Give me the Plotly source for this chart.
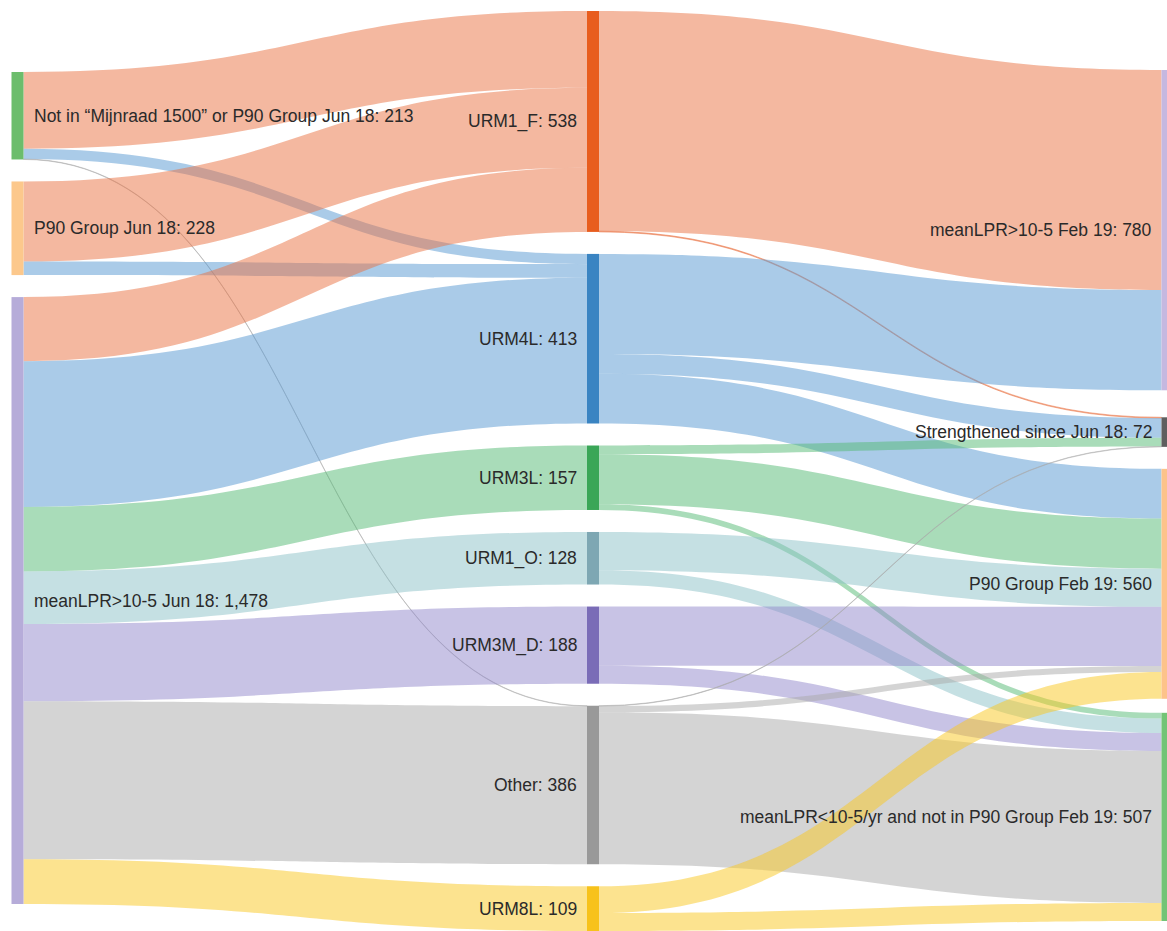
import plotly.graph_objects as go

# ---------------- data ----------------
node_names = [
    "Not in \u201cMijnraad 1500\u201d or P90 Group Jun 18",
    "P90 Group Jun 18",
    "meanLPR>10-5 Jun 18",
    "URM1_F", "URM4L", "URM3L", "URM1_O", "URM3M_D", "Other", "URM8L",
    "meanLPR>10-5 Feb 19",
    "Strengthened since Jun 18",
    "P90 Group Feb 19",
    "meanLPR<10-5/yr and not in P90 Group Feb 19",
]
node_column = [0, 0, 0, 1, 1, 1, 1, 1, 1, 1, 2, 2, 2, 2]

link_source = [0, 0, 0, 1, 1, 2, 2, 2, 2, 2, 2, 2,
               3, 3, 4, 4, 4, 5, 5, 5, 6, 6, 7, 7, 8, 8, 8, 9, 9]
link_target = [3, 4, 8, 3, 4, 3, 4, 5, 6, 7, 8, 9,
               10, 11, 10, 11, 12, 11, 12, 13, 12, 13, 12, 13, 11, 12, 13, 12, 13]
link_value = [187, 25, 1, 195, 33, 156, 355, 157, 128, 188, 385, 109,
              536, 2, 244, 48, 121, 21, 122, 14, 93, 35, 144, 44, 1, 15, 370, 65, 44]

# ---------------- styles / layout ----------------
node_colors = ["#6cbd6c", "#fcc88c", "#b6acd9",
               "#e85d1e", "#3a84c2", "#3aa657", "#7ea7b3", "#7a6cb7", "#999999", "#f7c21b",
               "#c5b8e0", "#5f5f5f", "#fdc38a", "#72c476"]
flow_colors = {
    3: "rgba(233,113,65,0.5)",
    4: "rgba(85,151,209,0.5)",
    5: "rgba(83,185,115,0.5)",
    6: "rgba(139,193,199,0.5)",
    7: "rgba(145,135,203,0.5)",
    8: "rgba(169,169,169,0.5)",
    9: "rgba(249,199,31,0.5)",
}

W, HT = 1167, 931
TOP = 11
PAD = 22
THICK = 12
col_x_px = [17.5, 593, 1167.5]
col_start_px = [72, TOP, 70]
col_gaps_px = [[22, 22], [PAD] * 6, [27, 22, 14]]
FONT = dict(family="Arial, Liberation Sans, sans-serif", size=17.5, color="#2a2a2a")

H = HT - TOP
tin = [0] * len(node_names)
tout = [0] * len(node_names)
for s, t, v in zip(link_source, link_target, link_value):
    tout[s] += v
    tin[t] += v
totals = [max(a, b) for a, b in zip(tin, tout)]

col_sum = [sum(totals[i] for i in range(len(totals)) if node_column[i] == c) for c in range(3)]
col_n = [node_column.count(c) for c in range(3)]
k = min((H - (col_n[c] - 1) * PAD) / col_sum[c] for c in range(3))

node_x, node_y, centers_px = [], [], []
cursor = list(col_start_px)
gap_i = [0, 0, 0]
for i, c in enumerate(node_column):
    h = totals[i] * k
    top = cursor[c]
    ctr = top + h / 2
    centers_px.append(ctr)
    node_x.append(col_x_px[c] / W)
    node_y.append((ctr - TOP) / H)
    if gap_i[c] < len(col_gaps_px[c]):
        cursor[c] = top + h + col_gaps_px[c][gap_i[c]]
        gap_i[c] += 1

link_colors = [flow_colors[t] if node_column[s] == 0 else flow_colors[s]
               for s, t in zip(link_source, link_target)]

fig = go.Figure(go.Sankey(
    arrangement="fixed",
    domain=dict(x=[0, 1], y=[0, 1]),
    node=dict(
        label=[""] * len(node_names),
        customdata=node_names,
        x=node_x, y=node_y,
        pad=PAD, thickness=THICK,
        color=node_colors,
        line=dict(width=0),
        hovertemplate="%{customdata}: %{value}<extra></extra>",
    ),
    link=dict(source=link_source, target=link_target, value=link_value, color=link_colors),
))

annotations = []
for i, name in enumerate(node_names):
    c = node_column[i]
    text = f"{name}: {totals[i]:,}"
    if c == 0:
        xpx, anchor = col_x_px[0] + THICK / 2 + 8, "left"
    else:
        xpx, anchor = col_x_px[c] - THICK / 2 - 8, "right"
    annotations.append(dict(
        x=xpx / W, y=1 - (centers_px[i] - TOP) / H, xref="paper", yref="paper",
        text=text, showarrow=False, xanchor=anchor, yanchor="middle",
        font=FONT,
    ))

fig.update_layout(
    width=W, height=HT,
    margin=dict(l=0, r=0, t=TOP, b=0, pad=0),
    paper_bgcolor="white",
    annotations=annotations,
    font=FONT,
)

fig.write_html("out.html",
               config={"displayModeBar": False},
               post_script="document.body.style.margin='0';document.body.style.overflow='hidden';")
